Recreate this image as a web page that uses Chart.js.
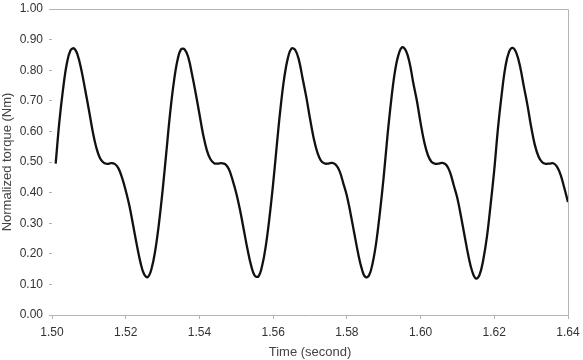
<!DOCTYPE html>
<html>
<head>
<meta charset="utf-8">
<script src="https://cdn.jsdelivr.net/npm/chart.js@4.4.0/dist/chart.umd.min.js"></script>
<style>
  html, body { margin: 0; padding: 0; background: #fff; }
  #wrap { width: 583px; height: 360px; }
</style>
</head>
<body>
<div id="wrap"><canvas id="torqueChart" width="583" height="360"></canvas></div>
<script>
// time samples (s), 1 ms apart
const timeStart = 1.501;
const timeStep = 0.001;
const torque = [
  0.495, 0.632, 0.738, 0.820, 0.864, 0.871, 0.848, 0.799, 0.736, 0.671,
  0.603, 0.548, 0.513, 0.498, 0.494, 0.496, 0.494, 0.480, 0.449, 0.407,
  0.357, 0.294, 0.230, 0.172, 0.133, 0.124, 0.151, 0.210, 0.297, 0.406,
  0.529, 0.654, 0.756, 0.830, 0.868, 0.868, 0.841, 0.786, 0.724, 0.657,
  0.590, 0.539, 0.509, 0.496, 0.495, 0.496, 0.493, 0.476, 0.441, 0.398,
  0.344, 0.281, 0.217, 0.163, 0.129, 0.126, 0.160, 0.225, 0.318, 0.429,
  0.556, 0.676, 0.774, 0.840, 0.871, 0.866, 0.833, 0.773, 0.712, 0.642,
  0.578, 0.531, 0.504, 0.495, 0.495, 0.497, 0.491, 0.471, 0.432, 0.390,
  0.332, 0.268, 0.205, 0.153, 0.124, 0.129, 0.170, 0.240, 0.339, 0.452,
  0.583, 0.698, 0.792, 0.850, 0.875, 0.864, 0.825, 0.760, 0.700, 0.628,
  0.565, 0.522, 0.500, 0.494, 0.495, 0.497, 0.490, 0.466, 0.424, 0.381,
  0.320, 0.255, 0.192, 0.143, 0.119, 0.131, 0.180, 0.255, 0.360, 0.475,
  0.610, 0.720, 0.810, 0.860, 0.873, 0.856, 0.812, 0.748, 0.686, 0.615,
  0.556, 0.518, 0.499, 0.494, 0.495, 0.496, 0.485, 0.458, 0.415, 0.369
];
const xTicks = [1.50, 1.52, 1.54, 1.56, 1.58, 1.60, 1.62, 1.64];
const yTicks = [0.00, 0.10, 0.20, 0.30, 0.40, 0.50, 0.60, 0.70, 0.80, 0.90, 1.00];

const points = torque.map((v, i) => ({ x: +(timeStart + i * timeStep).toFixed(3), y: v }));

// top and right edges of the plot box
const frameLines = {
  id: "frameLines",
  afterDraw(chart) {
    const { ctx, chartArea: a } = chart;
    ctx.save();
    ctx.strokeStyle = "#b4b4b4";
    ctx.lineWidth = 1;
    ctx.beginPath();
    ctx.moveTo(a.left, a.top + 0.5);
    ctx.lineTo(a.right + 0.5, a.top + 0.5);
    ctx.lineTo(a.right + 0.5, a.bottom);
    ctx.stroke();
    ctx.restore();
  },
};

const font = { family: "'Liberation Sans', Arial, sans-serif", size: 12 };

new Chart(document.getElementById("torqueChart"), {
  type: "line",
  data: {
    datasets: [{
      data: points,
      borderColor: "#111",
      borderWidth: 2.3,
      pointRadius: 0,
      tension: 0.4,
      fill: false,
    }],
  },
  options: {
    responsive: false,
    animation: false,
    layout: { padding: { left: 0, top: 9, right: 15, bottom: 0 } },
    plugins: { legend: { display: false }, tooltip: { enabled: false } },
    scales: {
      x: {
        type: "linear",
        min: 1.50,
        max: 1.64,
        afterBuildTicks: (s) => { s.ticks = xTicks.map((v) => ({ value: v })); },
        afterFit: (s) => { s.height = 45; s.paddingLeft = 0; s.paddingRight = 0; },
        ticks: {
          font,
          color: "#333",
          padding: 6,
          maxRotation: 0,
          callback: (v) => v.toFixed(2),
        },
        grid: { drawOnChartArea: false, tickLength: 4, color: "#b4b4b4" },
        border: { color: "#b4b4b4" },
        title: {
          display: true,
          text: "Time (second)",
          font: { family: font.family, size: 13 },
          color: "#444",
          padding: { top: 3, bottom: 0 },
        },
      },
      y: {
        min: 0,
        max: 1,
        afterBuildTicks: (s) => { s.ticks = yTicks.map((v) => ({ value: v })); },
        afterFit: (s) => { s.width = 52; s.paddingTop = 0; s.paddingBottom = 0; },
        ticks: {
          font,
          color: "#333",
          padding: 6,
          callback: (v) => v.toFixed(2),
        },
        grid: { drawOnChartArea: false, tickLength: 3, color: "#b4b4b4" },
        border: { display: false },
        title: {
          display: true,
          text: "Normalized torque (Nm)",
          font: { family: font.family, size: 13 },
          color: "#444",
          padding: { top: 0, bottom: 0 },
        },
      },
    },
  },
  plugins: [frameLines],
});
</script>
</body>
</html>
